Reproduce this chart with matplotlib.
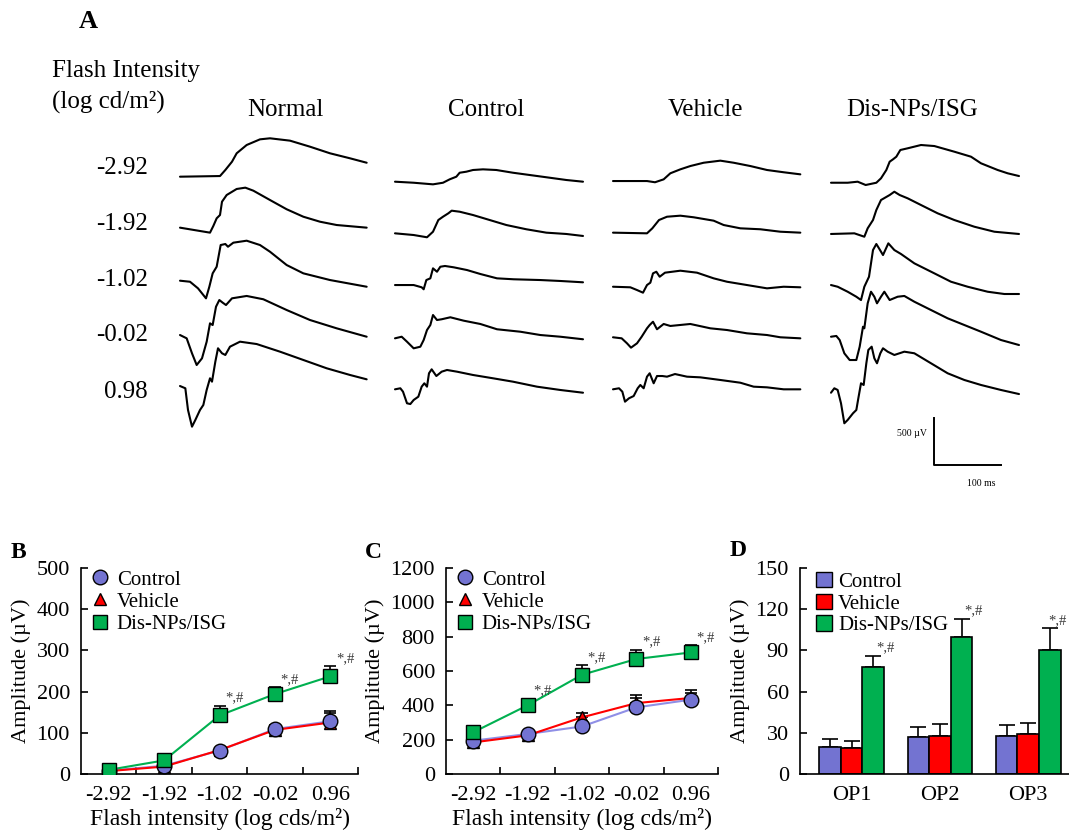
import matplotlib.pyplot as plt
import numpy as np
from matplotlib.lines import Line2D
from matplotlib.patches import Patch

plt.rcParams['font.family'] = ['Liberation Serif', 'DejaVu Serif']

W, H = 1069, 832

# ---------------- panel A: ERG waveforms ----------------
# time (ms) and amplitude (uV) of each trace, relative to the row baseline
intensity_labels = ['-2.92', '-1.92', '-1.02', '-0.02', '0.98']
group_names = ['Normal', 'Control', 'Vehicle', 'Dis-NPs/ISG']

normal_ms = [
    [0, 60, 68, 78, 85, 100, 120, 135, 165, 195, 225, 255, 280],
    [0, 45, 50, 55, 60, 63, 70, 85, 98, 110, 135, 160, 185, 210, 235, 280],
    [0, 15, 27, 39, 44, 49, 55, 61, 68, 72, 80, 100, 120, 135, 160, 185, 225, 280],
    [0, 10, 18, 25, 33, 40, 45, 49, 54, 59, 64, 69, 78, 100, 125, 160, 195, 235, 280],
    [0, 8, 12, 18, 23, 30, 35, 40, 45, 48, 53, 57, 63, 68, 75, 90, 115, 150, 185, 220, 255, 280],
]
normal_uv = [
    [35, 42, 106, 194, 283, 371, 431, 442, 417, 353, 283, 230, 183],
    [46, -7, 64, 145, 180, 321, 392, 456, 470, 438, 339, 241, 162, 109, 74, 46],
    [35, 24, -46, -152, -29, 113, 183, 413, 424, 395, 438, 459, 413, 342, 201, 113, 42, -29],
    [21, -14, -173, -297, -226, -50, 145, 127, 321, 392, 364, 339, 410, 435, 400, 286, 180, 92, 3],
    [21, -3, -233, -410, -339, -233, -180, -21, 103, 67, 279, 421, 368, 350, 438, 491, 466, 385, 297, 209, 138, 92],
]

control_ms = [
    [0, 28, 57, 72, 82, 92, 97, 107, 117, 132, 152, 177, 202, 227, 257, 282],
    [0, 28, 48, 57, 65, 72, 80, 85, 97, 117, 142, 167, 197, 227, 257, 282],
    [0, 28, 40, 43, 47, 53, 57, 63, 68, 75, 88, 108, 128, 153, 178, 218, 248, 282],
    [0, 10, 18, 28, 38, 43, 48, 53, 57, 63, 70, 83, 103, 128, 153, 188, 218, 248, 282],
    [0, 8, 12, 18, 23, 28, 35, 40, 44, 48, 51, 55, 62, 70, 78, 93, 117, 147, 177, 213, 248, 282],
]
control_uv = [
    [-18, -29, -46, -29, 7, 35, 77, 88, 106, 113, 106, 77, 53, 29, 0, -18],
    [-14, -32, -56, 3, 127, 162, 198, 226, 215, 180, 127, 74, 29, -7, -21, -42],
    [-11, -11, -35, -56, 42, 60, 166, 130, 183, 191, 177, 148, 106, 60, 50, 42, 32, 18],
    [-14, 3, -50, -120, -103, -32, 74, 127, 233, 180, 188, 209, 173, 138, 82, 56, 21, 3, -24],
    [-14, -3, -39, -162, -170, -127, -92, 14, 50, 14, 156, 198, 127, 173, 191, 173, 138, 103, 67, 14, -21, -50],
]

vehicle_ms = [
    [0, 51, 63, 76, 86, 101, 116, 136, 161, 181, 206, 231, 256, 281],
    [0, 51, 59, 69, 81, 101, 121, 151, 166, 191, 221, 251, 281],
    [0, 26, 36, 45, 51, 56, 60, 65, 70, 78, 101, 126, 151, 171, 201, 231, 256, 281],
    [0, 13, 21, 27, 36, 43, 51, 55, 60, 66, 76, 86, 116, 146, 171, 201, 231, 251, 281],
    [0, 9, 14, 18, 24, 31, 37, 41, 46, 51, 55, 61, 66, 74, 81, 93, 111, 131, 161, 191, 211, 231, 256, 281],
]
vehicle_uv = [
    [-11, -11, -24, 7, 71, 113, 148, 183, 205, 183, 148, 106, 82, 60],
    [-7, -14, 39, 127, 162, 173, 156, 120, 74, 39, 29, 3, -7],
    [-29, -35, -64, -92, -11, 14, 113, 130, 77, 120, 141, 120, 60, 24, -11, -46, -29, -35],
    [-3, -14, -67, -113, -67, 3, 92, 127, 162, 82, 138, 117, 138, 92, 74, 39, 21, -3, -14],
    [-14, -3, -39, -145, -109, -85, -3, 32, -3, 120, 156, 50, 127, 127, 120, 148, 120, 113, 85, 56, 14, 7, -14, -14],
]

dis_ms = [
    [0, 25, 40, 52, 68, 75, 83, 88, 93, 98, 104, 115, 135, 155, 185, 210, 225, 250, 265, 282],
    [0, 35, 50, 55, 63, 68, 75, 88, 95, 103, 115, 135, 160, 185, 215, 245, 282],
    [0, 10, 25, 38, 45, 50, 57, 63, 68, 72, 78, 86, 95, 105, 125, 155, 180, 205, 235, 260, 282],
    [0, 8, 13, 20, 28, 38, 43, 48, 50, 55, 60, 65, 69, 75, 80, 88, 100, 110, 125, 150, 175, 200, 225, 255, 282],
    [0, 5, 10, 15, 20, 25, 33, 38, 41, 45, 49, 53, 56, 61, 65, 69, 74, 78, 85, 95, 110, 125, 150, 175, 200, 225, 255, 282],
]
dis_uv = [
    [-29, -29, -18, -53, -29, 18, 106, 194, 219, 247, 318, 336, 371, 360, 300, 247, 177, 106, 71, 42],
    [-21, -14, -50, 39, 127, 233, 339, 392, 427, 392, 357, 286, 198, 127, 56, 3, -21],
    [-11, -29, -82, -135, -170, -29, 77, 360, 424, 378, 307, 431, 360, 318, 219, 113, 24, -29, -82, -106, -106],
    [3, 11, -32, -173, -244, -244, -103, 109, 92, 357, 480, 427, 357, 427, 480, 392, 427, 435, 374, 286, 198, 127, 56, -32, -85],
    [-50, -3, -21, -162, -374, -339, -268, -233, -109, 50, 32, 262, 403, 438, 315, 262, 368, 421, 385, 350, 385, 368, 262, 156, 85, 32, -21, -64],
]

scale_uv = 500
scale_ms = 100

# ---------------- panels B and C: amplitude vs flash intensity ----------------
flash_levels = ['-2.92', '-1.92', '-1.02', '-0.02', '0.96']
series_names = ['Control', 'Vehicle', 'Dis-NPs/ISG']

b_control = [8, 20, 57, 109, 128]
b_control_err = [4, 5, 6, 11, 26]
b_vehicle = [7, 18, 58, 107, 125]
b_vehicle_err = [4, 5, 6, 10, 24]
b_dis = [10, 33, 142, 194, 237]
b_dis_err = [6, 5, 24, 16, 24]
b_marked = [False, False, True, True, True]

c_control = [194, 233, 277, 388, 433]
c_control_err = [10, 12, 15, 55, 40]
c_vehicle = [184, 225, 330, 413, 443]
c_vehicle_err = [10, 12, 27, 50, 45]
c_dis = [243, 400, 578, 670, 708]
c_dis_err = [12, 39, 55, 52, 42]
c_marked = [False, True, True, True, True]

# ---------------- panel D: oscillatory potentials ----------------
op_labels = ['OP1', 'OP2', 'OP3']
d_control = [19.7, 27, 27.5]
d_control_err = [6, 7, 8]
d_vehicle = [19, 28, 29]
d_vehicle_err = [5, 8.5, 8]
d_dis = [78, 100, 90]
d_dis_err = [8, 13, 16]

C_CTRL = '#7373D1'
C_CTRL_LINE = '#8F8FE6'
C_VEH = '#FF0000'
C_DIS = '#00B050'
C_MARK = '#3A3A3A'

fig = plt.figure(figsize=(W / 100, H / 100), dpi=100)
fig.patch.set_facecolor('white')

# full-figure canvas in pixel units for panel A and free text
ax_a = fig.add_axes([0, 0, 1, 1])
ax_a.set_xlim(0, W)
ax_a.set_ylim(H, 0)
ax_a.axis('off')

MS_PER_PX = 1.5
UV_PER_PX = 10.6
col_x0 = [180, 395, 613, 831]
row_y0 = [180, 232, 284, 337, 388]
traces = [(normal_ms, normal_uv), (control_ms, control_uv),
          (vehicle_ms, vehicle_uv), (dis_ms, dis_uv)]

for c, (t_rows, v_rows) in enumerate(traces):
    for r in range(len(intensity_labels)):
        x = col_x0[c] + np.asarray(t_rows[r]) / MS_PER_PX
        y = row_y0[r] - np.asarray(v_rows[r]) / UV_PER_PX
        ax_a.plot(x, y, color='black', lw=1.5, solid_joinstyle='round',
                  solid_capstyle='round')

title_x = [285, 486, 705, 912]
for name, x in zip(group_names, title_x):
    ax_a.text(x, 110, name, fontsize=18, ha='center', va='center')

label_y = [168, 224, 280, 335, 392]
for lab, y in zip(intensity_labels, label_y):
    ax_a.text(148, y, lab, fontsize=18, ha='right', va='center')

ax_a.text(88, 22, 'A', fontsize=19, fontweight='bold', ha='center', va='center')
ax_a.text(52, 71, 'Flash Intensity', fontsize=18, ha='left', va='center')
ax_a.text(52, 102, '(log cd/m²)', fontsize=18, ha='left', va='center')

# scale bar
sb_x, sb_y = 934, 465
ax_a.plot([sb_x, sb_x, sb_x + scale_ms / MS_PER_PX],
          [sb_y - scale_uv / UV_PER_PX, sb_y, sb_y], color='black', lw=1.4)
ax_a.text(sb_x - 7, 434, f'{scale_uv} µV', fontsize=7, ha='right', va='center')
ax_a.text(sb_x + 47, 483, f'{scale_ms} ms', fontsize=7, ha='center', va='center')

ax_a.text(18, 552, 'B', fontsize=17, fontweight='bold', ha='center', va='center')
ax_a.text(373, 552, 'C', fontsize=17, fontweight='bold', ha='center', va='center')
ax_a.text(738, 551, 'D', fontsize=17, fontweight='bold', ha='center', va='center')


def px_rect(left, right, top, bottom):
    return [left / W, (H - bottom) / H, (right - left) / W, (bottom - top) / H]


def style_axes(ax):
    for s in ('top', 'right'):
        ax.spines[s].set_visible(False)
    for s in ('left', 'bottom'):
        ax.spines[s].set_linewidth(1.2)
    ax.tick_params(axis='y', direction='in', length=5, width=1.2, labelsize=16, pad=8)
    ax.patch.set_alpha(0)


def line_panel(ax, ymax, ystep, ctrl, ctrl_err, veh, veh_err, dis, dis_err, marked):
    x = np.arange(len(flash_levels))
    ekw = dict(fmt='none', ecolor='black', elinewidth=1.2, capsize=4.5, capthick=1.2)
    ax.errorbar(x, ctrl, yerr=[np.zeros(len(x)), ctrl_err], zorder=2, **ekw)
    ax.errorbar(x, veh, yerr=[np.zeros(len(x)), veh_err], zorder=2, **ekw)
    ax.errorbar(x, dis, yerr=[np.zeros(len(x)), dis_err], zorder=2, **ekw)
    ax.plot(x, ctrl, color=C_CTRL_LINE, lw=1.5, zorder=3)
    ax.plot(x, veh, color=C_VEH, lw=1.5, zorder=3)
    ax.plot(x, dis, color=C_DIS, lw=1.5, zorder=3)
    ax.plot(x, veh, ls='none', marker='^', ms=9, mfc=C_VEH, mec='black', mew=1.0, zorder=4)
    ax.plot(x, ctrl, ls='none', marker='o', ms=10.5, mfc=C_CTRL, mec='black', mew=1.0, zorder=5)
    ax.plot(x, dis, ls='none', marker='s', ms=10.5, mfc=C_DIS, mec='black', mew=1.0, zorder=6)
    for xi, v, e, m in zip(x, dis, dis_err, marked):
        if m:
            ax.annotate('*,#', (xi, v + e), xytext=(4, 1), textcoords='offset points',
                        ha='left', va='bottom', fontsize=10.5, color=C_MARK)
    ax.set_xlim(-0.5, len(x) - 0.5)
    ax.set_ylim(0, ymax)
    ax.set_yticks(np.arange(0, ymax + 1, ystep))
    ax.set_xticks(x)
    ax.set_xticklabels(flash_levels)
    ax.set_xticks(np.arange(0.5, len(x), 1.0), minor=True)
    ax.tick_params(axis='x', which='major', length=0, labelsize=16, pad=9)
    ax.tick_params(axis='x', which='minor', direction='in', length=5, width=1.2)
    ax.set_xlabel('Flash intensity (log cds/m²)', fontsize=17, labelpad=2)
    ax.set_ylabel('Amplitude (µV)', fontsize=16, labelpad=4)
    handles = [
        Line2D([], [], ls='none', marker='o', ms=10.5, mfc=C_CTRL, mec='black', mew=1.0),
        Line2D([], [], ls='none', marker='^', ms=9, mfc=C_VEH, mec='black', mew=1.0),
        Line2D([], [], ls='none', marker='s', ms=10.5, mfc=C_DIS, mec='black', mew=1.0),
    ]
    ax.legend(handles, series_names, loc='upper left', bbox_to_anchor=(0.02, 1.01),
              frameon=False, fontsize=15, handlelength=0.9, handletextpad=0.35,
              labelspacing=0.12, borderpad=0.2, borderaxespad=0)


ax_b = fig.add_axes(px_rect(81, 358, 568, 774))
style_axes(ax_b)
line_panel(ax_b, 500, 100, b_control, b_control_err, b_vehicle, b_vehicle_err,
           b_dis, b_dis_err, b_marked)

ax_c = fig.add_axes(px_rect(446, 718, 568, 774))
style_axes(ax_c)
line_panel(ax_c, 1200, 200, c_control, c_control_err, c_vehicle, c_vehicle_err,
           c_dis, c_dis_err, c_marked)

# bar chart of oscillatory potentials
ax_d = fig.add_axes(px_rect(800, 1069, 568, 774))
style_axes(ax_d)
xd = np.arange(len(op_labels))
bw = 0.245
ekw = dict(fmt='none', ecolor='black', elinewidth=1.2, capsize=5.5, capthick=1.2, zorder=1)
for off, vals, errs, col in [(-bw, d_control, d_control_err, C_CTRL),
                             (0, d_vehicle, d_vehicle_err, C_VEH),
                             (bw, d_dis, d_dis_err, C_DIS)]:
    ax_d.errorbar(xd + off, vals, yerr=[np.zeros(len(xd)), errs], **ekw)
    ax_d.bar(xd + off, vals, width=bw, color=col, edgecolor='black', linewidth=1.2, zorder=2)
# significance marks over the right edge of each green bar; the last one is
# pulled in so it stays inside the figure
for i, (xi, v, e) in enumerate(zip(xd, d_dis, d_dis_err)):
    if i == len(xd) - 1:
        ax_d.annotate('*,#', (1.0, v + e), xycoords=('axes fraction', 'data'),
                      xytext=(-2, 1), textcoords='offset points',
                      ha='right', va='bottom', fontsize=10.5, color=C_MARK)
    else:
        ax_d.annotate('*,#', (xi + 1.5 * bw, v + e), xytext=(1, 1), textcoords='offset points',
                      ha='center', va='bottom', fontsize=10.5, color=C_MARK)
ax_d.set_xlim(-0.585, -0.585 + 269 / 88.3)
ax_d.set_ylim(0, 150)
ax_d.set_yticks(np.arange(0, 151, 30))
ax_d.set_xticks(xd)
ax_d.set_xticklabels(op_labels)
ax_d.tick_params(axis='x', length=0, labelsize=16, pad=9)
ax_d.set_ylabel('Amplitude (µV)', fontsize=16, labelpad=4)
d_handles = [Patch(facecolor=c, edgecolor='black', linewidth=1.0) for c in (C_CTRL, C_VEH, C_DIS)]
ax_d.legend(d_handles, series_names, loc='upper left', bbox_to_anchor=(0.045, 1.0),
            frameon=False, fontsize=15, handlelength=0.75, handleheight=0.75,
            handletextpad=0.3, labelspacing=0.08, borderpad=0.2, borderaxespad=0)

fig.savefig('out.png', dpi=100, facecolor='white')
